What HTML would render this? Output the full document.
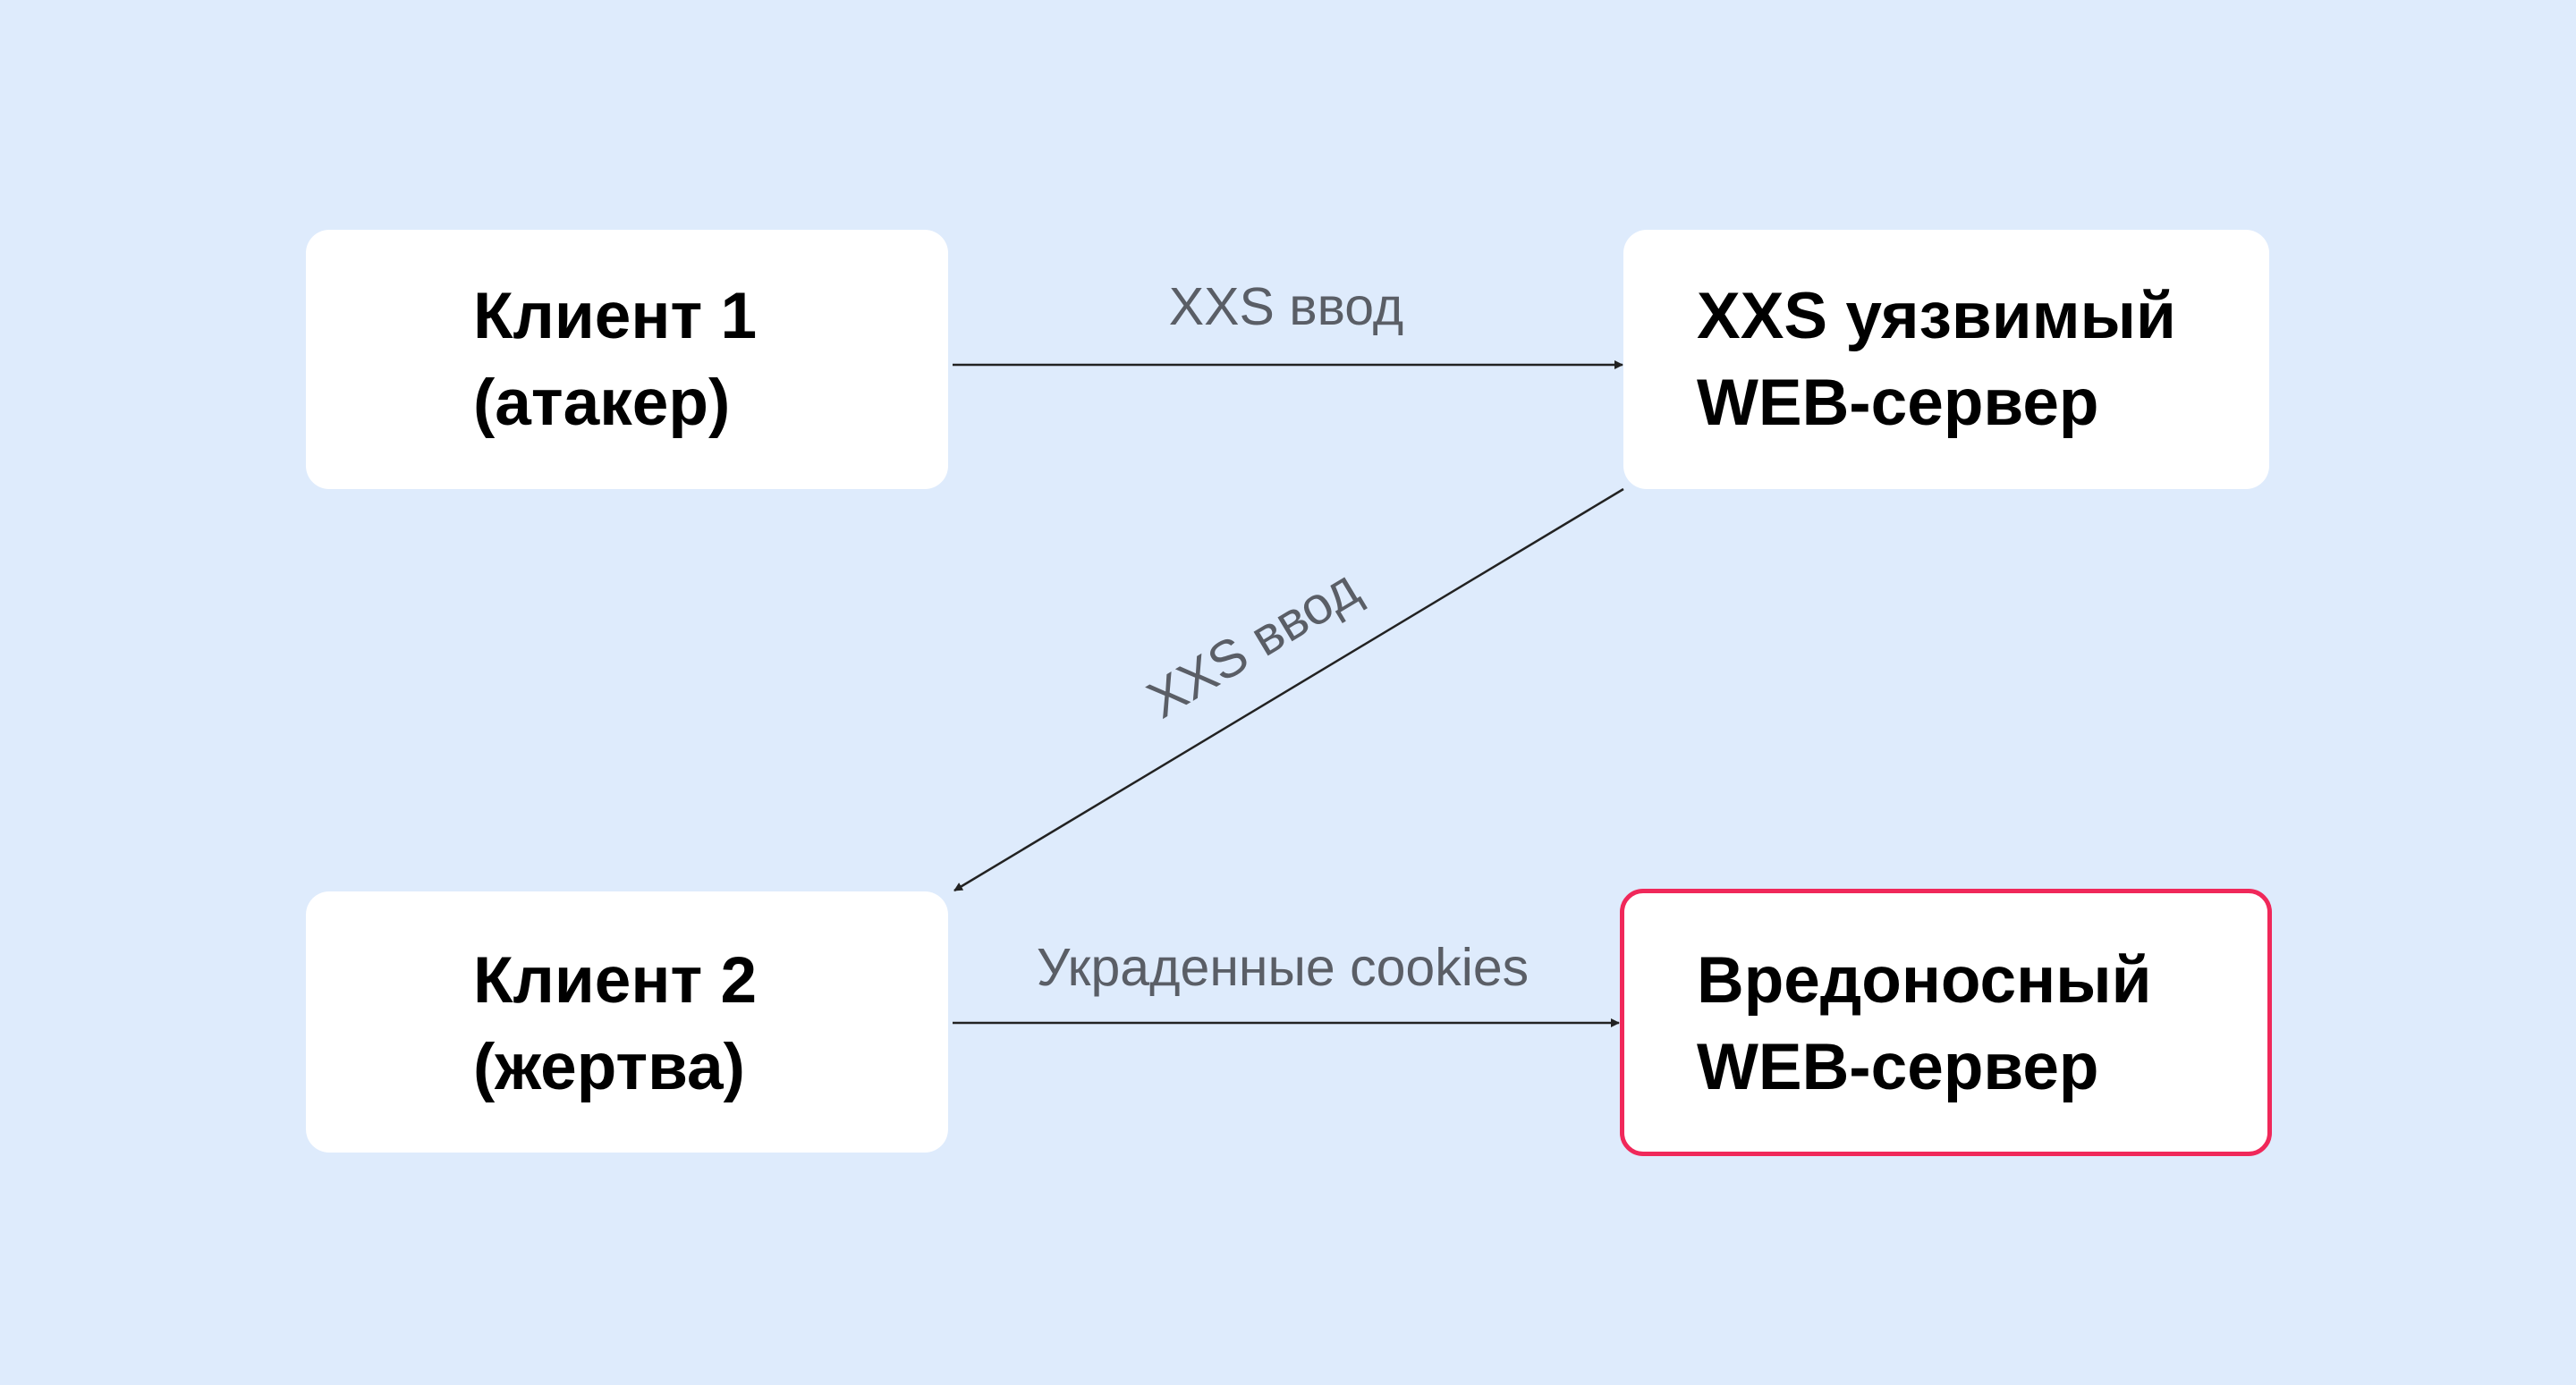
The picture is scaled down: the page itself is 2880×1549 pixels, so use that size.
<!DOCTYPE html>
<html><head><meta charset="utf-8"><style>
html,body{margin:0;padding:0}
body{width:2880px;height:1549px;background:#deebfc;position:relative;overflow:hidden;font-family:"Liberation Sans",sans-serif}
.box{position:absolute;background:#fff;border-radius:26px;box-sizing:border-box}
.t{position:absolute;font-weight:bold;font-size:73px;line-height:97px;color:#000;white-space:nowrap}
.l{position:absolute;font-size:59px;color:#5a5e66;white-space:nowrap;transform:translate(-50%,-50%)}
</style></head><body>
<div class="box" style="left:342px;top:257px;width:718px;height:290px"></div>
<div class="box" style="left:1815px;top:257px;width:722px;height:290px"></div>
<div class="box" style="left:342px;top:997px;width:718px;height:292px"></div>
<div class="box" style="left:1811px;top:994px;width:729px;height:299px;border:5px solid #f0285a"></div>
<div class="t" style="left:529px;top:305px">Клиент 1<br>(атакер)</div>
<div class="t" style="left:1897px;top:305px">XXS уязвимый<br>WEB-сервер</div>
<div class="t" style="left:529px;top:1048px">Клиент 2<br>(жертва)</div>
<div class="t" style="left:1897px;top:1048px">Вредоносный<br>WEB-сервер</div>
<svg width="2880" height="1549" style="position:absolute;left:0;top:0">
<defs><marker id="a" markerWidth="10" markerHeight="10" refX="9" refY="5" orient="auto" markerUnits="userSpaceOnUse"><path d="M0,0 L10,5 L0,10 z" fill="#222"/></marker></defs>
<line x1="1065" y1="408" x2="1814" y2="408" stroke="#222" stroke-width="2.5" marker-end="url(#a)"/>
<line x1="1815" y1="547" x2="1067" y2="996" stroke="#222" stroke-width="2.5" marker-end="url(#a)"/>
<line x1="1065" y1="1144" x2="1810" y2="1144" stroke="#222" stroke-width="2.5" marker-end="url(#a)"/>
</svg>
<div class="l" style="left:1438px;top:343px">XXS ввод</div>
<div class="l" style="left:1401px;top:720px;transform:translate(-50%,-50%) rotate(-31deg)">XXS ввод</div>
<div class="l" style="left:1434px;top:1082px">Украденные cookies</div>
</body></html>
